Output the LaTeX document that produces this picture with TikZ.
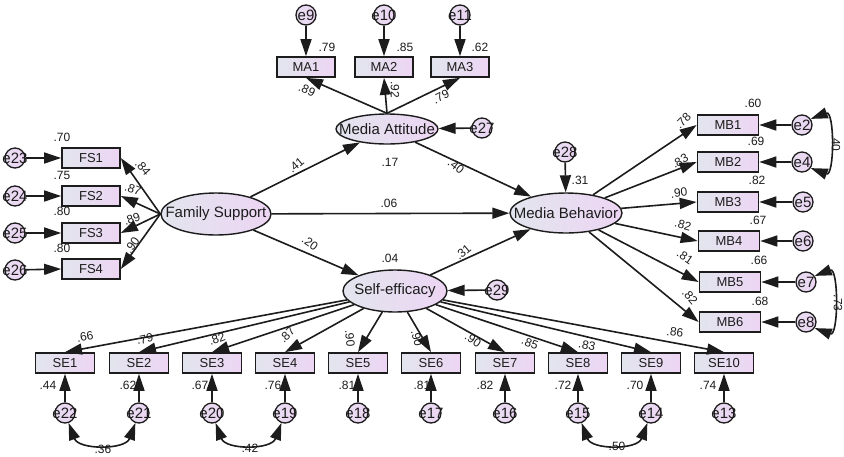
\documentclass[tikz,border=0pt]{standalone}
\usepackage{fontspec}
\setmainfont{Liberation Sans}
\usetikzlibrary{shapes.geometric,arrows.meta,calc}

\definecolor{shadeL}{HTML}{E2E5EE}
\definecolor{shadeR}{HTML}{EDD5F3}
\definecolor{ink}{HTML}{1C1C1C}

% zero-width box so that node sizes come from the styles only
\newcommand{\zbox}[1]{\makebox[0pt]{#1}}

\tikzset{
  obs/.style={rectangle, draw=ink, line width=1.7pt, minimum width=59pt,
    minimum height=20pt, inner sep=0pt, left color=shadeL, right color=shadeR,
    font=\fontsize{13}{13}\selectfont, text=ink},
  lat/.style={ellipse, draw=ink, line width=1.4pt, inner sep=0pt,
    left color=shadeL, right color=shadeR,
    font=\fontsize{15}{15}\selectfont, text=ink},
  err/.style={circle, draw=ink, line width=1.3pt, minimum size=20pt,
    inner sep=0pt, left color=shadeL!50!shadeR, right color=shadeR,
    font=\fontsize{15}{15}\selectfont, text=ink},
  tip/.tip={Triangle[length=17pt,width=11pt]},
  reg/.style={draw=ink, line width=1.6pt, -tip},
  cov/.style={draw=ink, line width=1.6pt, tip-tip},
  num/.style={font=\fontsize{12}{12}\selectfont, text=ink, inner sep=0pt},
}

\begin{document}
\begin{tikzpicture}[x=1pt,y=-1pt]
\fill[white] (0,0) rectangle (844,456);
\useasboundingbox (0,0) rectangle (844,456);

% latent variables
\node[lat, minimum width=102pt, minimum height=30pt] (ma) at (387,129) {\zbox{Media Attitude}};
\node[lat, minimum width=110pt, minimum height=42pt] (fs) at (216,214) {\zbox{Family Support}};
\node[lat, minimum width=112pt, minimum height=40pt] (mb) at (566,213) {\zbox{Media Behavior}};
\node[lat, minimum width=104pt, minimum height=42pt] (se) at (395,291) {\zbox{Self-efficacy}};

% Media Attitude indicators
\node[obs, minimum width=58pt] (ma1) at (306,67) {MA1};
\node[obs, minimum width=58pt] (ma2) at (384,67) {MA2};
\node[obs, minimum width=58pt] (ma3) at (460,67) {MA3};
\node[err] (e9)  at (306,15) {\zbox{e9}};
\node[err] (e10) at (384,15) {\zbox{e10}};
\node[err] (e11) at (460,15) {\zbox{e11}};

% Family Support indicators
\node[obs, minimum width=58pt] (fs1) at (91,158) {FS1};
\node[obs, minimum width=58pt] (fs2) at (91,196) {FS2};
\node[obs, minimum width=58pt] (fs3) at (91,233) {FS3};
\node[obs, minimum width=58pt] (fs4) at (91,269) {FS4};
\node[err] (e23) at (15,158) {\zbox{e23}};
\node[err] (e24) at (15,196) {\zbox{e24}};
\node[err] (e25) at (15,233) {\zbox{e25}};
\node[err] (e26) at (15,270) {\zbox{e26}};

% Media Behavior indicators
\node[obs, minimum width=61pt] (mb1) at (728,125) {MB1};
\node[obs, minimum width=61pt] (mb2) at (728,162) {MB2};
\node[obs, minimum width=61pt] (mb3) at (728,202) {MB3};
\node[obs, minimum width=61pt] (mb4) at (729,241) {MB4};
\node[obs, minimum width=61pt] (mb5) at (730,282) {MB5};
\node[obs, minimum width=61pt] (mb6) at (730,322) {MB6};
\node[err] (e2) at (802,125) {\zbox{e2}};
\node[err] (e4) at (802,162) {\zbox{e4}};
\node[err] (e5) at (803,202) {\zbox{e5}};
\node[err] (e6) at (803,241) {\zbox{e6}};
\node[err] (e7) at (806,282) {\zbox{e7}};
\node[err] (e8) at (806,322) {\zbox{e8}};

% Self-efficacy indicators
\foreach \i/\x/\e in {1/65/22, 2/139/21, 3/212/20, 4/285/19, 5/358/18,
                      6/431/17, 7/505/16, 8/578/15, 9/651/14, 10/724/13} {
  \node[obs] (se\i) at (\x,363) {SE\i};
  \node[err] (e\e) at (\x,413) {\zbox{e\e}};
  \draw[reg] (e\e) -- (se\i.south);
  \draw[reg] (se) -- (se\i.north);
}

% disturbances
\node[err] (e27) at (482,128) {\zbox{e27}};
\node[err] (e28) at (565,152) {\zbox{e28}};
\node[err] (e29) at (497,290) {\zbox{e29}};

% structural paths
\draw[reg] (fs) -- (ma);
\draw[reg] (fs) -- (mb);
\draw[reg] (fs) -- (se);
\draw[reg] (ma) -- (mb);
\draw[reg] (se) -- (mb);
\draw[reg] (e27) -- (ma);
\draw[reg] (e28) -- (mb);
\draw[reg] (e29) -- (se);

% measurement paths
\foreach \k in {1,2,3} \draw[reg] (ma.north) -- (ma\k.south);
\draw[reg] (e9) -- (ma1.north);
\draw[reg] (e10) -- (ma2.north);
\draw[reg] (e11) -- (ma3.north);
\foreach \k in {1,2,3,4} \draw[reg] (fs.west) -- (fs\k.east);
\draw[reg] (e23) -- (fs1.west);
\draw[reg] (e24) -- (fs2.west);
\draw[reg] (e25) -- (fs3.west);
\draw[reg] (e26) -- (fs4.west);
\foreach \k in {1,...,6} \draw[reg] (mb) -- (mb\k.west);
\draw[reg] (e2) -- (mb1.east);
\draw[reg] (e4) -- (mb2.east);
\draw[reg] (e5) -- (mb3.east);
\draw[reg] (e6) -- (mb4.east);
\draw[reg] (e7) -- (mb5.east);
\draw[reg] (e8) -- (mb6.east);

% error covariances
\draw[cov] (e2.35) .. controls +(24,-9) and +(24,9) .. (e4.-35);
\draw[cov] (e7.35) .. controls +(24,-9) and +(24,9) .. (e8.-35);
\draw[cov] (e22.-70) .. controls +(10,27) and +(-10,27) .. (e21.-110);
\draw[cov] (e20.-70) .. controls +(10,27) and +(-10,27) .. (e19.-110);
\draw[cov] (e15.-70) .. controls +(10,27) and +(-10,27) .. (e14.-110);

% estimates: Media Attitude
\node[num] at (327,47) {.79};
\node[num] at (405,47) {.85};
\node[num] at (480,47) {.62};
\node[num, rotate=-25] at (307,90) {.89};
\node[num, rotate=-90] at (395,90) {.92};
\node[num, rotate=27] at (441,97) {.79};
\node[num] at (390,162) {.17};
\node[num] at (390,258) {.04};
\node[num] at (580,180) {.31};

% estimates: structural paths
\node[num, rotate=40] at (296,165) {.41};
\node[num, rotate=-38] at (456,166) {.40};
\node[num] at (389,203) {.06};
\node[num, rotate=-35] at (310,243) {.20};
\node[num, rotate=40] at (463,252) {.31};

% estimates: Family Support
\node[num] at (62,137) {.70};
\node[num] at (62,175) {.75};
\node[num] at (62,211) {.80};
\node[num] at (62,248) {.80};
\node[num, rotate=-50] at (143,168) {.84};
\node[num, rotate=-20] at (133,189) {.87};
\node[num, rotate=20] at (132,219) {.89};
\node[num, rotate=55] at (132,245) {.90};

% estimates: Media Behavior
\node[num] at (753,103) {.60};
\node[num] at (756,141) {.69};
\node[num] at (757,180) {.82};
\node[num] at (758,220) {.67};
\node[num] at (759,260) {.66};
\node[num] at (760,301) {.68};
\node[num, rotate=45] at (683,121) {.78};
\node[num, rotate=30] at (680,161) {.83};
\node[num, rotate=7] at (679,193) {.90};
\node[num, rotate=-16] at (683,225) {.82};
\node[num, rotate=-34] at (685,257) {.81};
\node[num, rotate=-50] at (690,297) {.82};
\node[num, rotate=-90] at (836,143) {.40};
\node[num, rotate=-90] at (838,303) {.73};

% estimates: Self-efficacy
\node[num, rotate=10] at (85,337) {.66};
\node[num, rotate=12] at (145,339) {.79};
\node[num, rotate=20] at (217,339) {.82};
\node[num, rotate=45] at (287,335) {.87};
\node[num, rotate=-85] at (350,338) {.90};
\node[num, rotate=-75] at (417,338) {.90};
\node[num, rotate=-33] at (473,340) {.90};
\node[num, rotate=-21] at (530,343) {.85};
\node[num, rotate=-12] at (587,345) {.83};
\node[num, rotate=-7] at (675,332) {.86};
\node[num] at (48,385) {.44};
\node[num] at (128,385) {.62};
\node[num] at (200,385) {.67};
\node[num] at (273,385) {.76};
\node[num] at (347,385) {.81};
\node[num] at (422,385) {.81};
\node[num] at (485,385) {.82};
\node[num] at (563,385) {.72};
\node[num] at (635,385) {.70};
\node[num] at (708,385) {.74};
\node[num] at (103,449) {.36};
\node[num] at (250,448) {.42};
\node[num] at (617,446) {.50};
\end{tikzpicture}
\end{document}
